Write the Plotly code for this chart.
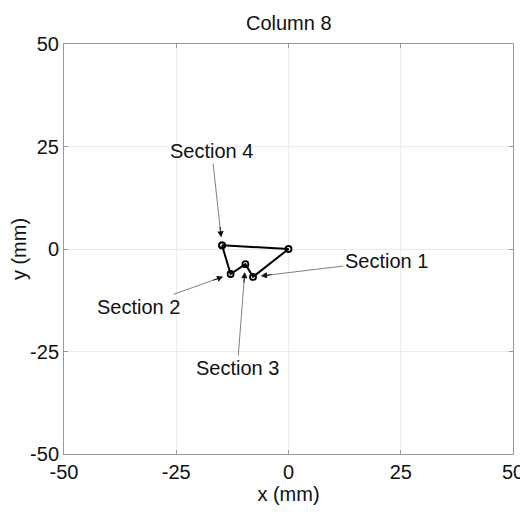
import math
import plotly.graph_objects as go

# Polygon vertices (mm), drawn in order and closed
px = [-14.8, 0.0, -7.9, -9.6, -12.9, -14.8]
py = [0.9, 0.0, -6.8, -3.7, -6.1, 0.9]

labels = ["Section 1", "Section 2", "Section 3", "Section 4"]
label_pt = [2, 4, 3, 0]          # index of vertex each label points to
label_x = [21.8, -33.4, -11.4, -17.1]
label_y = [-2.9, -14.1, -29.0, 23.9]

ticks = [-50, -25, 0, 25, 50]

FONT = "Liberation Sans, Arial, sans-serif"
FS = 20

W, H = 520, 501
M = dict(l=56, r=15, t=36, b=55)
sx = (W - M["l"] - M["r"]) / 100.0   # px per mm
sy = (H - M["t"] - M["b"]) / 100.0

fig = go.Figure()
fig.add_trace(go.Scatter(
    x=px, y=py, mode="lines+markers",
    line=dict(color="black", width=2),
    marker=dict(symbol="circle-open", size=6, color="black", line=dict(width=1.8)),
    hoverinfo="skip", showlegend=False,
))

for lab, i, lx, ly in zip(labels, label_pt, label_x, label_y):
    # grey shaft with label
    fig.add_annotation(
        x=px[i], y=py[i], ax=lx, ay=ly, axref="x", ayref="y", xref="x", yref="y",
        text=lab, showarrow=True, arrowhead=2, arrowsize=1.2, arrowwidth=1,
        arrowcolor="#808080", standoff=8,
        font=dict(family=FONT, size=FS, color="#111"),
    )
    # black arrow head on top
    dx = (lx - px[i]) * sx
    dy = -(ly - py[i]) * sy
    n = math.hypot(dx, dy)
    fig.add_annotation(
        x=px[i], y=py[i], ax=dx / n * 20, ay=dy / n * 20, xref="x", yref="y",
        text="", showarrow=True, arrowhead=2, arrowsize=1.2, arrowwidth=1,
        arrowcolor="#111111", standoff=8,
    )

axis_common = dict(
    range=[-50, 50], tickvals=ticks, ticktext=[str(t) for t in ticks],
    showgrid=True, gridcolor="#ebebeb", gridwidth=1,
    showline=True, linecolor="#999999", linewidth=1, mirror="ticks",
    ticks="inside", ticklen=4, tickcolor="#999999",
    zeroline=False, tickfont=dict(family=FONT, size=FS, color="#111"),
    automargin=False,
)

fig.update_layout(
    width=W, height=H,
    margin=M,
    paper_bgcolor="white", plot_bgcolor="white",
    title=dict(text="Column 8", x=0.540, xanchor="center", y=0.970, yanchor="middle",
               font=dict(family=FONT, size=FS, color="#111")),
    xaxis=dict(**axis_common, title=dict(text="x (mm)", standoff=2,
               font=dict(family=FONT, size=FS, color="#111"))),
    yaxis=dict(**axis_common, title=dict(text="y (mm)", standoff=4,
               font=dict(family=FONT, size=FS, color="#111"))),
)

fig.write_html("out.html")
